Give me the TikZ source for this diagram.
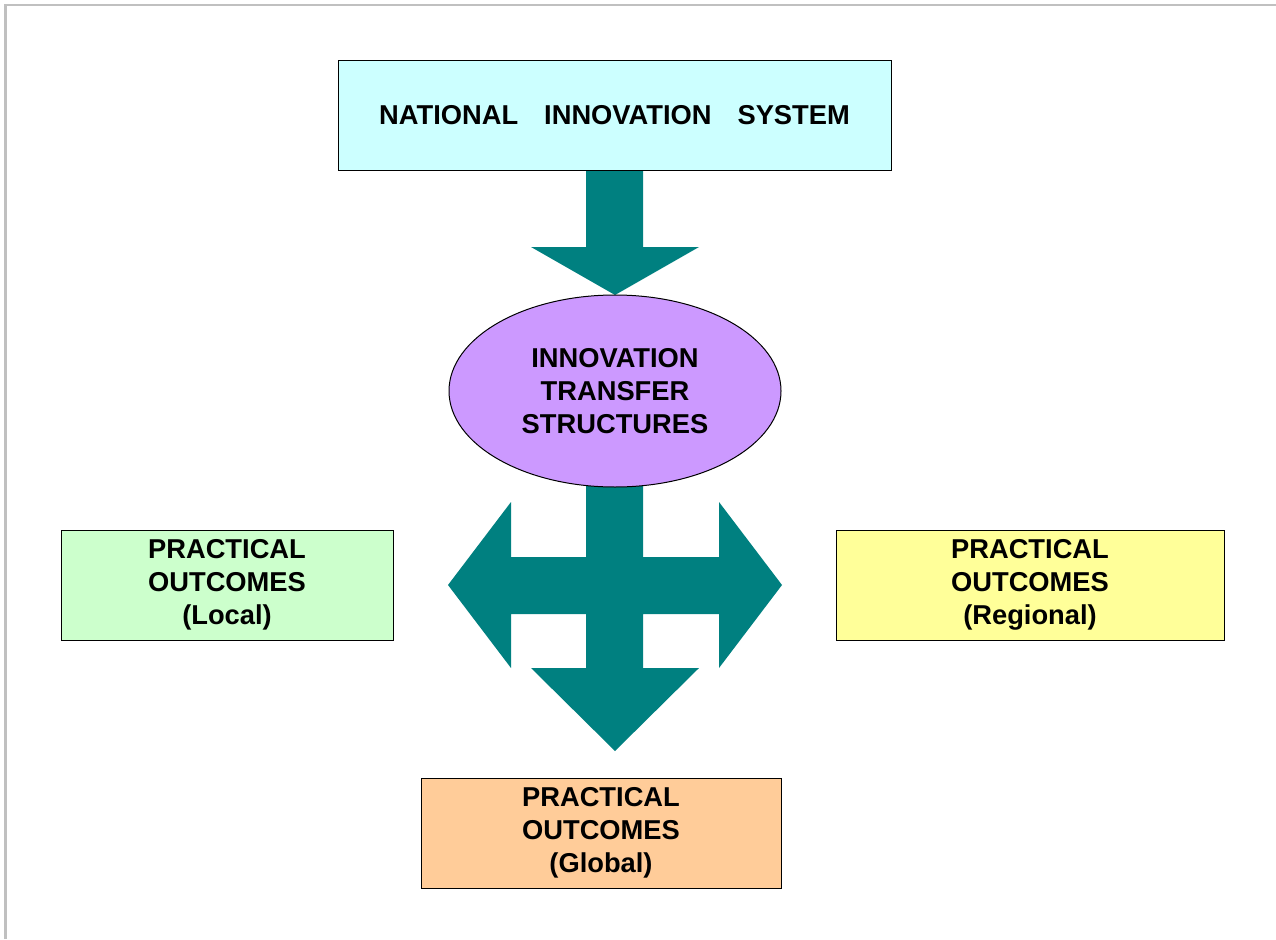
\documentclass[tikz,border=0pt]{standalone}
\usepackage{fontspec}
\setmainfont{Liberation Sans}
\usetikzlibrary{shapes.geometric}
\definecolor{teal}{HTML}{008080}
\definecolor{nisfill}{HTML}{CCFFFF}
\definecolor{itsfill}{HTML}{CC99FF}
\definecolor{localfill}{HTML}{CCFFCC}
\definecolor{regionfill}{HTML}{FFFF99}
\definecolor{globalfill}{HTML}{FFCC99}
\definecolor{framegray}{HTML}{C0C0C0}
\tikzset{
  labeltext/.style={font=\bfseries\fontsize{27.3}{33}\selectfont, align=center, text=black},
  box/.style={draw=black, line width=1pt, rectangle, inner sep=0pt, labeltext},
  blockarrow/.style={fill=teal, draw=none},
}
\begin{document}
\begin{tikzpicture}[x=1pt, y=-1pt]
  \useasboundingbox (0,0) rectangle (1276,939);
  \fill[white] (0,0) rectangle (1276,939);
  % page frame (top and left edges)
  \draw[framegray, line width=2.5pt] (5.5,939) -- (5.5,5) -- (1276,5);

  % block arrows
  \fill[blockarrow] (586,170) -- (643,170) -- (643,247) -- (699,247) -- (615,295)
    -- (531,247) -- (586,247) -- cycle;
  \fill[blockarrow] (586,470) -- (643,470) -- (643,557) -- (719,557) -- (719,502)
    -- (782,585) -- (719,668) -- (719,614) -- (643,614) -- (643,668) -- (699,668)
    -- (615,751) -- (531,668) -- (586,668) -- (586,614) -- (511,614) -- (511,668)
    -- (448,585) -- (511,502) -- (511,557) -- (586,557) -- cycle;

  % nodes
  \node[box, fill=nisfill, minimum width=553pt, minimum height=109pt] (nis) at (614.5,115.5)
    {NATIONAL\hspace{26pt}INNOVATION\hspace{26pt}SYSTEM};
  \node[ellipse, draw=black, line width=1pt, fill=itsfill, minimum width=332pt,
    minimum height=192pt, inner sep=0pt, labeltext] (its) at (615,391)
    {INNOVATION\\TRANSFER\\STRUCTURES};
  \node[box, fill=localfill, minimum width=332pt, minimum height=110pt] (local) at (227,585)
    {PRACTICAL\\OUTCOMES\\(Local)};
  \node[box, fill=regionfill, minimum width=388pt, minimum height=110pt] (regional) at (1030,585)
    {PRACTICAL\\OUTCOMES\\(Regional)};
  \node[box, fill=globalfill, minimum width=360pt, minimum height=110pt] (global) at (601,833)
    {PRACTICAL\\OUTCOMES\\(Global)};
\end{tikzpicture}
\end{document}
